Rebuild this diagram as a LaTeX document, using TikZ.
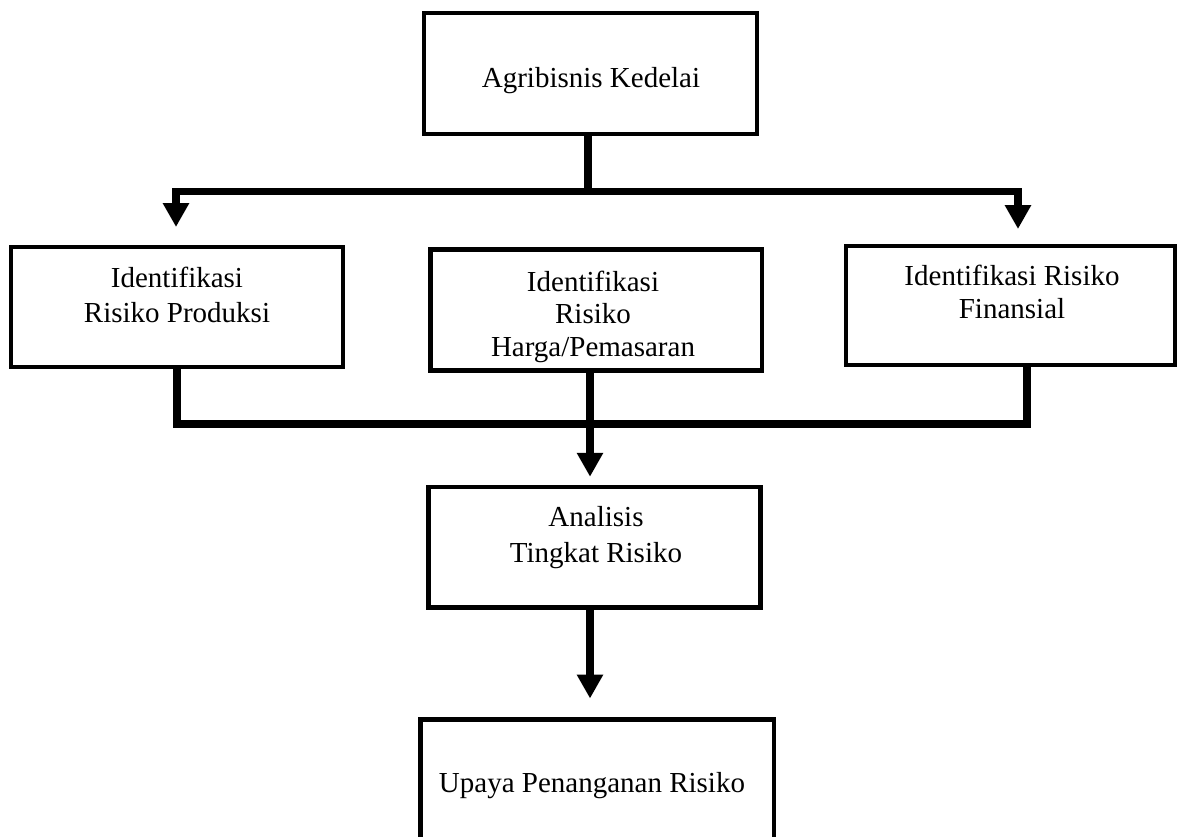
\documentclass[tikz,border=0pt]{standalone}
\usepackage{fontspec}
\setmainfont{Liberation Serif}
\usetikzlibrary{arrows.meta}
\begin{document}
\begin{tikzpicture}[x=1pt,y=-1pt,
  box/.style={draw=black, line width=4.5pt, rectangle, inner sep=0pt, outer sep=0pt, line join=miter},
  lbl/.style={anchor=base, align=center, inner sep=0pt, font=\fontsize{29}{35}\selectfont},
  conn/.style={draw=black, line width=7.5pt, line join=miter},
  arr/.style={conn, -{Triangle[width=25pt,length=24pt]}}]
\useasboundingbox (0,0) rectangle (1178,836);
\clip (0,0) rectangle (1178,836);
% boxes
\node[box, minimum width=333pt, minimum height=121pt] (top) at (590.5,73.5) {};
\node[box, minimum width=332pt, minimum height=120pt] (left) at (177,307) {};
\node[box, minimum width=329pt, minimum height=119pt] (right) at (1010.5,305.5) {};
\node[box, minimum width=331.5pt, minimum height=121pt] (mid) at (596,310) {};
\node[box, minimum width=332pt, minimum height=120.5pt] (ana) at (594.5,547) {};
\node[box, minimum width=353.5pt, minimum height=120pt] (upaya) at (597.25,779.5) {};
% texts (base anchor = baseline of the last line)
\node[lbl] (t0) at (591,87) {Agribisnis Kedelai};
\node[lbl] (t1) at (177,322) {Identifikasi\\Risiko Produksi};
\node[lbl, font=\fontsize{29}{32.5}\selectfont] (t2) at (593,356) {Identifikasi\\Risiko\\Harga/Pemasaran};
\node[lbl, font=\fontsize{29}{33}\selectfont] (t3) at (1012,318) {Identifikasi Risiko\\Finansial};
\node[lbl, font=\fontsize{29}{36}\selectfont] (t4) at (596,562) {Analisis\\Tingkat Risiko};
\node[lbl] (t5) at (592,792) {Upaya Penanganan Risiko};
% connectors
\coordinate (hub) at (588,191.5);
\coordinate (bus) at (590,424);
\draw[conn] (top.south -| hub) -- (hub);
\draw[arr, shorten >=20pt] (hub) -| ([xshift=-1pt]left.north);
\draw[arr, shorten >=17pt] (hub) -| ([xshift=7.5pt]right.north);
\draw[conn] (left.south) |- (bus) -| ([xshift=16.5pt]right.south);
\draw[arr, shorten >=10pt] (mid.south -| bus) -- (ana.north -| bus);
\draw[arr, shorten >=21pt] (ana.south -| bus) -- (upaya.north -| bus);
\end{tikzpicture}
\end{document}
